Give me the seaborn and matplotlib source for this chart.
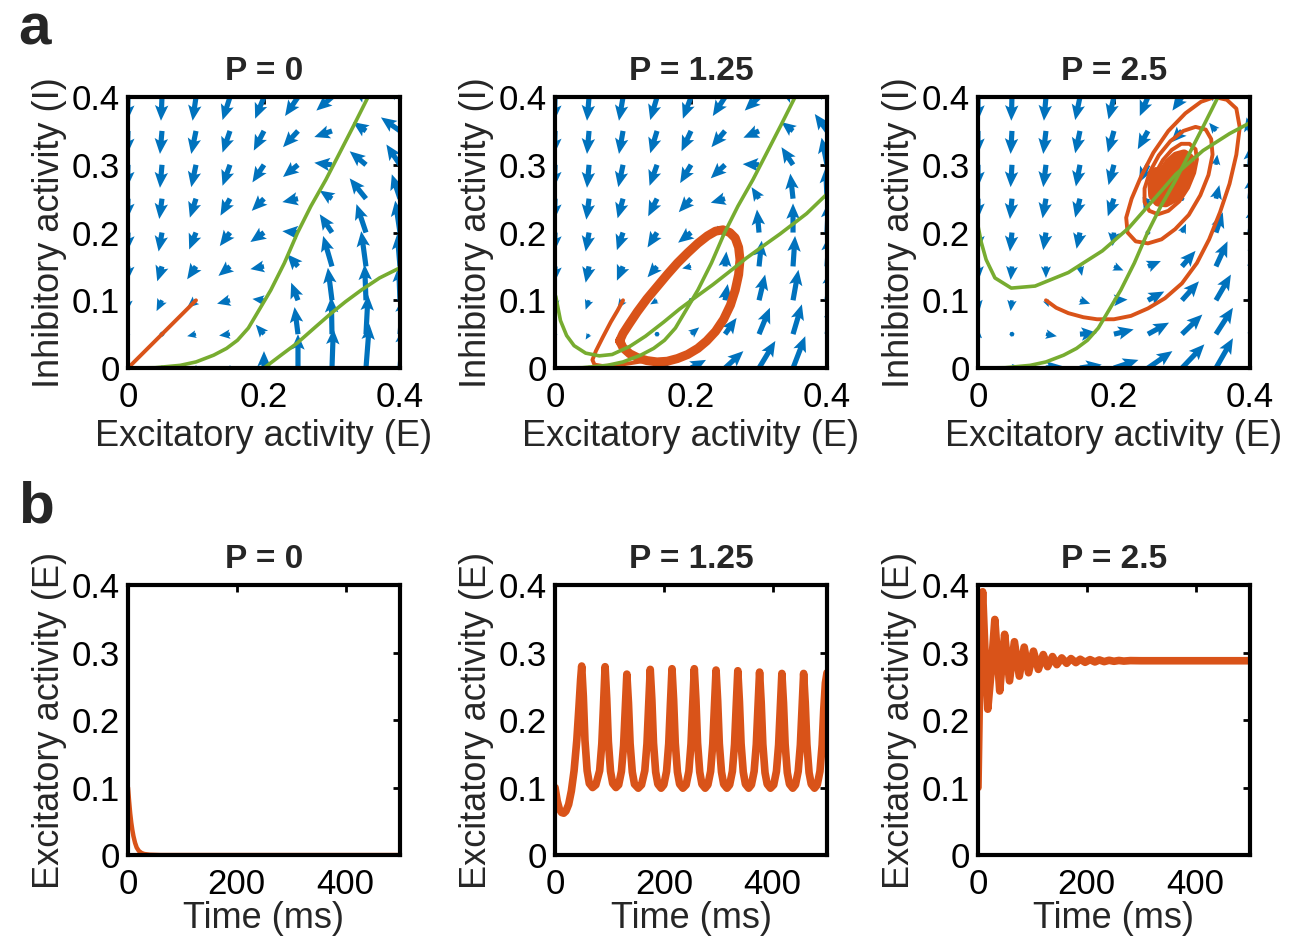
import numpy as np
import pandas as pd
import matplotlib
matplotlib.use("Agg")
import matplotlib.pyplot as plt
import seaborn as sb

# --- data --------------------------------------------------------------
p_labels = ["P = 0", "P = 1.25", "P = 2.5"]

# quiver grid (tails), rows listed from top (I=0.4) to bottom (I=0)
e_grid = [0, 0.05, 0.1, 0.15, 0.2, 0.25, 0.3, 0.35, 0.4]
i_grid = [0.4, 0.35, 0.3, 0.25, 0.2, 0.15, 0.1, 0.05, 0]

U_p0 = [[-0.001, -0.0015, -0.005, -0.011, -0.013, -0.019, -0.023, -0.02, -0.012],
        [-0.001, -0.003, -0.007, -0.011, -0.015, -0.022, -0.026, -0.019, -0.028],
        [-0.001, -0.003, -0.007, -0.011, -0.017, -0.022, -0.026, -0.024, -0.02],
        [-0.001, -0.004, -0.009, -0.014, -0.018, -0.023, -0.018, -0.024, -0.012],
        [-0.001, -0.005, -0.01, -0.015, -0.02, -0.023, -0.018, -0.014, -0.007],
        [-0.001, -0.007, -0.013, -0.017, -0.02, -0.016, -0.013, -0.007, -0.004],
        [-0.001, -0.008, -0.013, -0.019, -0.017, -0.01, -0.006, -0.002, -0.002],
        [-0.001, -0.005, -0.013, -0.016, -0.012, -0.005, -0.001, 0.003, 0.005],
        [0, 0, 0, 0, 0, 0, 0.002, 0.005, 0.005]]
V_p0 = [[-0.035, -0.035, -0.035, -0.034, -0.032, -0.028, -0.02, 0.012, 0.02],
        [-0.034, -0.034, -0.034, -0.032, -0.029, -0.024, -0.009, 0.013, 0.02],
        [-0.033, -0.034, -0.033, -0.031, -0.026, -0.018, 0.003, 0.02, 0.03],
        [-0.03, -0.03, -0.028, -0.025, -0.018, -0.005, 0.012, 0.03, 0.036],
        [-0.028, -0.028, -0.025, -0.02, -0.014, 0.002, 0.027, 0.042, 0.047],
        [-0.022, -0.022, -0.019, -0.014, -0.004, 0.018, 0.045, 0.052, 0.048],
        [-0.016, -0.016, -0.011, -0.005, 0.002, 0.026, 0.048, 0.053, 0.05],
        [-0.008, -0.005, -0.003, -0.002, 0.014, 0.04, 0.055, 0.058, 0.055],
        [0, 0.001, 0.002, 0.005, 0.025, 0.05, 0.058, 0.065, 0.06]]

U_p125 = [[-0.001, -0.003, -0.006, -0.01, -0.012, -0.018, -0.021, -0.02, -0.01],
          [-0.001, -0.003, -0.006, -0.01, -0.014, -0.02, -0.023, -0.017, -0.018],
          [-0.001, -0.003, -0.007, -0.011, -0.016, -0.021, -0.024, -0.017, -0.008],
          [-0.001, -0.004, -0.008, -0.013, -0.018, -0.021, -0.011, -0.004, -0.002],
          [-0.001, -0.005, -0.009, -0.014, -0.019, -0.012, -0.003, 0, 0.002],
          [-0.001, -0.005, -0.009, -0.014, -0.013, 0.002, 0.004, 0.003, 0.003],
          [0, -0.005, -0.008, -0.01, -0.003, 0.004, 0.009, 0.008, 0.006],
          [0.001, -0.005, -0.004, 0.006, 0.012, 0.017, 0.016, 0.013, 0.01],
          [0.001, 0.002, 0.006, 0.018, 0.022, 0.027, 0.024, 0.018, 0.014]]
V_p125 = [[-0.035, -0.035, -0.035, -0.034, -0.032, -0.028, -0.02, 0.01, 0.02],
          [-0.034, -0.034, -0.034, -0.033, -0.03, -0.024, -0.01, 0.013, 0.025],
          [-0.033, -0.034, -0.033, -0.031, -0.027, -0.02, 0.001, 0.026, 0.04],
          [-0.031, -0.031, -0.029, -0.026, -0.02, -0.006, 0.017, 0.037, 0.046],
          [-0.028, -0.028, -0.026, -0.022, -0.015, 0.01, 0.034, 0.043, 0.045],
          [-0.024, -0.024, -0.021, -0.016, -0.003, 0.022, 0.038, 0.045, 0.046],
          [-0.015, -0.014, -0.012, -0.006, 0.003, 0.024, 0.038, 0.045, 0.046],
          [-0.008, -0.008, -0.003, 0, 0.01, 0.024, 0.039, 0.044, 0.045],
          [0, 0.001, 0.002, 0.005, 0.012, 0.025, 0.04, 0.047, 0.048]]

U_p25 = [[0, -0.001, -0.003, -0.007, -0.008, -0.012, -0.014, -0.015, -0.008],
         [0, -0.002, -0.004, -0.007, -0.009, -0.015, -0.016, -0.01, -0.005],
         [0, -0.002, -0.004, -0.006, -0.008, -0.013, -0.008, 0.002, 0.002],
         [0, -0.003, -0.005, -0.007, -0.009, -0.006, 0.003, 0.005, 0.004],
         [0, -0.003, -0.004, -0.005, -0.002, 0.002, 0.006, 0.01, 0.007],
         [0.001, -0.002, 0, 0.003, 0.014, 0.019, 0.02, 0.017, 0.012],
         [0.002, -0.002, 0.004, 0.015, 0.02, 0.024, 0.025, 0.022, 0.018],
         [0.006, 0.004, 0.016, 0.025, 0.029, 0.031, 0.03, 0.025, 0.02],
         [0.008, 0.014, 0.024, 0.032, 0.036, 0.036, 0.033, 0.025, 0.02]]
V_p25 = [[-0.035, -0.035, -0.035, -0.034, -0.033, -0.028, -0.02, 0.01, 0.02],
         [-0.034, -0.034, -0.034, -0.033, -0.032, -0.027, -0.017, 0.012, 0.02],
         [-0.033, -0.033, -0.033, -0.032, -0.03, -0.026, -0.01, 0.015, 0.03],
         [-0.03, -0.03, -0.029, -0.028, -0.026, -0.018, 0.005, 0.02, 0.036],
         [-0.028, -0.028, -0.026, -0.024, -0.02, -0.006, 0.013, 0.03, 0.042],
         [-0.02, -0.02, -0.017, -0.014, -0.006, 0.008, 0.023, 0.037, 0.043],
         [-0.016, -0.016, -0.01, -0.005, 0.001, 0.013, 0.028, 0.038, 0.043],
         [-0.006, -0.005, -0.003, 0.002, 0.007, 0.017, 0.029, 0.039, 0.044],
         [0, 0.001, 0.003, 0.005, 0.012, 0.025, 0.035, 0.044, 0.047]]

# I-nullcline (same in every panel)
inull_E = [0, 0.04, 0.077, 0.1, 0.126, 0.145, 0.161, 0.177, 0.19, 0.21, 0.23,
           0.249, 0.269, 0.291, 0.31, 0.332, 0.353]
inull_I = [0, 0.0005, 0.004, 0.009, 0.019, 0.029, 0.041, 0.059, 0.081, 0.115,
           0.155, 0.199, 0.239, 0.278, 0.315, 0.358, 0.4]

# E-nullclines
enull_p0_E = [0.2, 0.225, 0.249, 0.275, 0.299, 0.32, 0.343, 0.37, 0.4]
enull_p0_I = [0, 0.019, 0.037, 0.06, 0.081, 0.098, 0.115, 0.133, 0.148]
enull_p125_E = [0.001, 0.008, 0.017, 0.028, 0.045, 0.065, 0.084, 0.11, 0.133, 0.16,
                0.183, 0.21, 0.232, 0.26, 0.281, 0.31, 0.331, 0.37, 0.4]
enull_p125_I = [0.106, 0.07, 0.048, 0.033, 0.022, 0.018, 0.02, 0.032, 0.047, 0.068,
                0.087, 0.107, 0.123, 0.145, 0.162, 0.183, 0.198, 0.228, 0.257]
enull_p25_E = [0, 0.005, 0.012, 0.025, 0.049, 0.084, 0.133, 0.183, 0.222, 0.257,
               0.291, 0.331, 0.37, 0.4]
enull_p25_I = [0.21, 0.185, 0.16, 0.133, 0.118, 0.121, 0.141, 0.173, 0.207, 0.247,
               0.286, 0.321, 0.346, 0.362]

# trajectories in the E-I plane
traj_p0_E = [0.1, 0.05, 0]
traj_p0_I = [0.1, 0.05, 0]
trans_p125_E = [0.1, 0.092, 0.082, 0.07, 0.06, 0.055, 0.058, 0.07, 0.09, 0.11, 0.135]
trans_p125_I = [0.1, 0.085, 0.068, 0.045, 0.025, 0.012, 0.005, 0.003, 0.004, 0.007, 0.011]
cycle_p125_E = [0.095, 0.1, 0.11, 0.122, 0.135, 0.15, 0.165, 0.18, 0.195, 0.21, 0.223,
                0.236, 0.248, 0.258, 0.265, 0.27, 0.272, 0.27, 0.265, 0.257, 0.247,
                0.236, 0.224, 0.21, 0.195, 0.18, 0.165, 0.15, 0.135, 0.121, 0.109,
                0.1, 0.095]
cycle_p125_I = [0.04, 0.03, 0.021, 0.015, 0.011, 0.009, 0.01, 0.014, 0.02, 0.029, 0.04,
                0.054, 0.072, 0.093, 0.115, 0.138, 0.16, 0.178, 0.192, 0.2, 0.204,
                0.202, 0.195, 0.184, 0.17, 0.155, 0.138, 0.12, 0.102, 0.083, 0.065,
                0.051, 0.04]
spiral_p25_E = [0.1, 0.115, 0.133, 0.155, 0.175, 0.2, 0.225, 0.25, 0.275, 0.3, 0.322,
                0.34, 0.356, 0.37, 0.38, 0.385, 0.38, 0.366, 0.348, 0.328, 0.305, 0.28,
                0.258, 0.24, 0.226, 0.218, 0.22, 0.232, 0.25, 0.27, 0.29, 0.31, 0.327,
                0.339, 0.345, 0.343, 0.335, 0.32, 0.302, 0.283, 0.266, 0.253, 0.245,
                0.245, 0.252, 0.265, 0.28, 0.296, 0.309, 0.318, 0.322, 0.32, 0.311,
                0.299, 0.285, 0.272, 0.262, 0.257, 0.258, 0.265, 0.276, 0.289, 0.3,
                0.308, 0.312, 0.311, 0.303, 0.292, 0.281, 0.272, 0.268, 0.27, 0.277,
                0.287, 0.296, 0.302, 0.303, 0.298, 0.29, 0.281, 0.276, 0.276, 0.282,
                0.29, 0.296, 0.297, 0.292, 0.285, 0.282, 0.285, 0.29, 0.291, 0.287, 0.286]
spiral_p25_I = [0.1, 0.089, 0.081, 0.075, 0.072, 0.072, 0.077, 0.088, 0.103, 0.125, 0.155,
                0.19, 0.23, 0.272, 0.315, 0.355, 0.383, 0.396, 0.4, 0.393, 0.376, 0.35,
                0.318, 0.283, 0.25, 0.222, 0.2, 0.187, 0.184, 0.19, 0.205, 0.226, 0.255,
                0.285, 0.315, 0.338, 0.352, 0.356, 0.35, 0.335, 0.314, 0.29, 0.265,
                0.245, 0.232, 0.227, 0.232, 0.246, 0.266, 0.288, 0.308, 0.323, 0.331,
                0.331, 0.322, 0.307, 0.289, 0.27, 0.255, 0.246, 0.245, 0.252, 0.265,
                0.28, 0.296, 0.309, 0.315, 0.312, 0.302, 0.288, 0.274, 0.262, 0.257,
                0.26, 0.27, 0.283, 0.296, 0.303, 0.302, 0.294, 0.283, 0.272, 0.267,
                0.271, 0.28, 0.29, 0.295, 0.29, 0.281, 0.275, 0.279, 0.286, 0.287, 0.282]
spiral_core_start = 56  # from here on the loops overlap into a solid blob

# E(t) time courses
t_p0 = [0, 2, 4, 6, 8, 10, 13, 16, 20, 25, 30, 40, 60, 500]
E_p0 = [0.1, 0.08, 0.062, 0.048, 0.037, 0.028, 0.018, 0.011, 0.006, 0.003, 0.0015,
        0.0005, 0, 0]
t_p125 = [0, 4, 8, 12, 16, 20, 25, 30, 35, 40, 44, 47, 49,
          52, 55, 59, 63, 69, 75, 82, 86, 89, 92,
          95, 98, 102, 106, 112, 117, 122, 126, 129, 132,
          135, 138, 142, 146, 153, 159, 165, 169, 172, 175,
          178, 181, 185, 189, 195, 200, 205, 209, 212, 215,
          218, 221, 225, 229, 235, 241, 246, 250, 253, 256,
          259, 262, 266, 270, 276, 281, 286, 290, 293, 296,
          299, 302, 306, 310, 316, 321, 326, 330, 333, 336,
          339, 342, 346, 350, 356, 361, 366, 370, 373, 376,
          379, 382, 386, 390, 396, 402, 407, 411, 414, 417,
          420, 423, 427, 431, 437, 442, 447, 451, 454, 457,
          460, 463, 467, 471, 477, 482, 487, 491, 494, 497, 500]
E_p125 = [0.1, 0.08, 0.068, 0.063, 0.062, 0.065, 0.075, 0.095, 0.125, 0.17, 0.22, 0.26, 0.28,
          0.235, 0.17, 0.125, 0.106, 0.1, 0.104, 0.125, 0.165, 0.22, 0.279,
          0.232, 0.168, 0.124, 0.106, 0.1, 0.104, 0.124, 0.162, 0.215, 0.268,
          0.225, 0.165, 0.123, 0.105, 0.099, 0.104, 0.125, 0.165, 0.22, 0.275,
          0.23, 0.166, 0.123, 0.105, 0.099, 0.104, 0.124, 0.165, 0.222, 0.276,
          0.23, 0.166, 0.123, 0.105, 0.099, 0.104, 0.124, 0.165, 0.222, 0.276,
          0.23, 0.166, 0.123, 0.105, 0.099, 0.104, 0.124, 0.165, 0.22, 0.274,
          0.228, 0.165, 0.123, 0.105, 0.099, 0.104, 0.124, 0.164, 0.22, 0.273,
          0.227, 0.165, 0.123, 0.105, 0.099, 0.104, 0.124, 0.164, 0.218, 0.271,
          0.226, 0.164, 0.122, 0.105, 0.099, 0.104, 0.124, 0.163, 0.216, 0.269,
          0.225, 0.164, 0.122, 0.105, 0.099, 0.104, 0.124, 0.163, 0.216, 0.269,
          0.225, 0.164, 0.122, 0.105, 0.099, 0.104, 0.124, 0.163, 0.216, 0.255, 0.27]
t_p25 = [0, 4, 8.6, 13, 18, 24, 31, 36, 40, 45, 49, 58, 67, 76, 85, 93, 102, 111, 120,
         128, 137, 145, 154, 163, 171, 180, 188, 197, 206, 215, 223, 232, 241, 250,
         259, 268, 280, 300, 500]
E_p25 = [0.1, 0.3, 0.39, 0.3, 0.216, 0.27, 0.349, 0.29, 0.243, 0.29, 0.327, 0.258,
         0.316, 0.265, 0.308, 0.27, 0.302, 0.275, 0.297, 0.279, 0.294, 0.282, 0.292,
         0.284, 0.291, 0.285, 0.29, 0.2855, 0.2895, 0.286, 0.289, 0.2865, 0.2885,
         0.287, 0.2882, 0.2873, 0.288, 0.2878, 0.2878]

# --- style -------------------------------------------------------------
blue, red, green = "#0072BD", "#D95319", "#77AC30"
sb.set_theme(style="white")
plt.rcParams["font.family"] = ["Liberation Sans", "DejaVu Sans"]
plt.rcParams["lines.solid_capstyle"] = "round"
plt.rcParams["lines.solid_joinstyle"] = "round"

fig = plt.figure(figsize=(12.89, 9.36), dpi=100)
lefts = [0.0993, 0.4306, 0.7587]
w = 0.211
top_axes = [fig.add_axes([l, 0.6068, w, 0.2895]) for l in lefts]
bot_axes = [fig.add_axes([l, 0.0865, w, 0.2885]) for l in lefts]


def style_box(ax):
    for s in ax.spines.values():
        s.set_visible(True)
        s.set_linewidth(3)
        s.set_color("black")
        s.set_zorder(5)
    ax.tick_params(direction="in", length=5, width=2, top=True, right=True,
                   labelsize=25, colors="black")
    ax.tick_params(axis="x", pad=9)
    ax.tick_params(axis="y", pad=6)
    ax.set_title(ax.get_title(), fontsize=24, fontweight="bold", pad=12)


fields = [(U_p0, V_p0), (U_p125, V_p125), (U_p25, V_p25)]
enulls = [(enull_p0_E, enull_p0_I), (enull_p125_E, enull_p125_I), (enull_p25_E, enull_p25_I)]
EE, II = np.meshgrid(e_grid, i_grid)

for k, ax in enumerate(top_axes):
    U, V = fields[k]
    ax.quiver(EE, II, np.array(U), np.array(V), color=blue, angles="xy",
              scale_units="xy", scale=1, width=0.019, headwidth=2.6,
              headlength=3.0, headaxislength=2.6, zorder=1)
    if k == 0:
        sb.lineplot(x=traj_p0_E, y=traj_p0_I, sort=False, estimator=None,
                    color=red, lw=2.8, ax=ax, zorder=3)
    elif k == 1:
        sb.lineplot(x=trans_p125_E, y=trans_p125_I, sort=False, estimator=None,
                    color=red, lw=2.8, ax=ax, zorder=3)
        sb.lineplot(x=cycle_p125_E, y=cycle_p125_I, sort=False, estimator=None,
                    color=red, lw=6.5, ax=ax, zorder=3)
    else:
        sb.lineplot(x=spiral_p25_E, y=spiral_p25_I, sort=False, estimator=None,
                    color=red, lw=2.8, ax=ax, zorder=3)
        sb.lineplot(x=spiral_p25_E[spiral_core_start:], y=spiral_p25_I[spiral_core_start:],
                    sort=False, estimator=None, color=red, lw=7.5, ax=ax, zorder=3)
    sb.lineplot(x=inull_E, y=inull_I, sort=False, estimator=None,
                color=green, lw=2.6, ax=ax, zorder=4)
    sb.lineplot(x=enulls[k][0], y=enulls[k][1], sort=False, estimator=None,
                color=green, lw=2.6, ax=ax, zorder=4)
    ax.set_xlim(0, 0.4)
    ax.set_ylim(0, 0.4)
    ax.set_xticks([0, 0.2, 0.4])
    ax.set_xticklabels(["0", "0.2", "0.4"])
    ax.set_yticks([0, 0.1, 0.2, 0.3, 0.4])
    ax.set_yticklabels(["0", "0.1", "0.2", "0.3", "0.4"])
    ax.set_xlabel("Excitatory activity (E)", fontsize=26, labelpad=4)
    ax.set_ylabel("Inhibitory activity (I)", fontsize=26, labelpad=3)
    ax.set_title(p_labels[k])
    style_box(ax)

series = [(t_p0, E_p0, 3.2), (t_p125, E_p125, 5.5), (t_p25, E_p25, 5.5)]
for k, ax in enumerate(bot_axes):
    t, e, lw = series[k]
    sb.lineplot(x=t, y=e, sort=False, estimator=None, color=red, lw=lw, ax=ax)
    ax.set_xlim(0, 500)
    ax.set_ylim(0, 0.4)
    ax.set_xticks([0, 200, 400])
    ax.set_xticklabels(["0", "200", "400"])
    ax.set_yticks([0, 0.1, 0.2, 0.3, 0.4])
    ax.set_yticklabels(["0", "0.1", "0.2", "0.3", "0.4"])
    ax.set_xlabel("Time (ms)", fontsize=26, labelpad=0)
    ax.set_ylabel("Excitatory activity (E)", fontsize=26, labelpad=3)
    ax.set_title(p_labels[k])
    style_box(ax)

fig.text(0.014, 0.952, "a", fontsize=42, fontweight="bold", va="baseline")
fig.text(0.014, 0.442, "b", fontsize=42, fontweight="bold", va="baseline")

fig.savefig("out.png", dpi=100)
